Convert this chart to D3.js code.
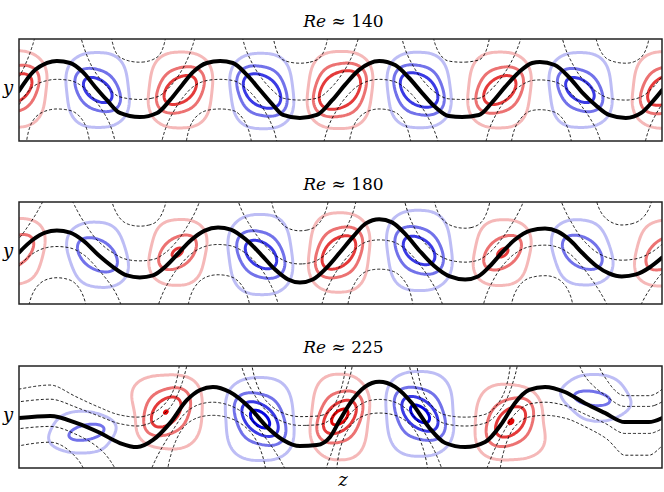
<!DOCTYPE html>
<html><head><meta charset="utf-8">
<script src="https://cdn.jsdelivr.net/npm/d3@7"></script>
<style>body{margin:0;background:#fff} svg{display:block}</style>
</head><body>
<svg id="c" width="664" height="492"></svg>
<script>
// ---------------- data (z in [0, 4pi], y in [-1, 1]) ----------------
const reynolds = ["140", "180", "225"];

// thick black line
const black140 = [[0.00,-0.02],[0.27,0.35],[0.55,0.53],[0.74,0.57],[1.00,0.53],[1.25,0.35],[1.49,0.06],[1.72,-0.20],[1.97,-0.45],[2.36,-0.53],[2.70,-0.45],[2.95,-0.20],[3.19,0.10],[3.40,0.35],[3.67,0.53],[3.93,0.57],[4.18,0.53],[4.46,0.29],[4.71,0.00],[4.96,-0.29],[5.16,-0.49],[5.49,-0.55],[5.82,-0.49],[6.12,-0.20],[6.37,0.10],[6.64,0.39],[7.04,0.57],[7.35,0.49],[7.62,0.24],[7.88,-0.06],[8.13,-0.33],[8.40,-0.51],[8.66,-0.53],[8.99,-0.49],[9.24,-0.25],[9.50,0.06],[9.77,0.35],[10.03,0.53],[10.18,0.55],[10.47,0.49],[10.75,0.25],[11.00,-0.04],[11.26,-0.29],[11.53,-0.49],[11.86,-0.55],[12.16,-0.45],[12.37,-0.24],[12.57,0.00]];
const black180 = [[0.00,0.01],[0.27,0.26],[0.51,0.40],[0.74,0.44],[1.00,0.40],[1.27,0.23],[1.54,-0.03],[1.82,-0.26],[2.11,-0.44],[2.36,-0.48],[2.62,-0.44],[2.87,-0.26],[3.11,-0.01],[3.36,0.25],[3.63,0.44],[3.89,0.50],[4.14,0.46],[4.44,0.26],[4.73,-0.03],[5.00,-0.32],[5.26,-0.52],[5.49,-0.58],[5.74,-0.52],[6.02,-0.28],[6.27,0.01],[6.53,0.32],[6.78,0.58],[7.04,0.66],[7.29,0.60],[7.56,0.36],[7.84,0.03],[8.11,-0.25],[8.42,-0.46],[8.72,-0.52],[8.97,-0.46],[9.20,-0.26],[9.44,0.01],[9.69,0.26],[9.99,0.44],[10.28,0.48],[10.53,0.42],[10.77,0.25],[11.00,0.01],[11.28,-0.25],[11.53,-0.40],[11.78,-0.46],[12.06,-0.42],[12.33,-0.28],[12.57,-0.09]];
const black225 = [[0.00,-0.02],[0.61,0.02],[1.13,-0.12],[1.58,-0.31],[1.97,-0.51],[2.31,-0.59],[2.62,-0.45],[2.95,-0.12],[3.28,0.33],[3.54,0.53],[3.79,0.59],[4.12,0.49],[4.51,0.18],[4.85,-0.20],[5.16,-0.45],[5.49,-0.57],[5.82,-0.55],[6.08,-0.39],[6.27,-0.06],[6.45,0.24],[6.76,0.59],[7.04,0.69],[7.35,0.59],[7.68,0.27],[8.01,-0.20],[8.33,-0.51],[8.72,-0.59],[9.11,-0.49],[9.44,-0.12],[9.69,0.27],[9.97,0.53],[10.28,0.59],[10.67,0.49],[11.06,0.27],[11.45,0.08],[11.84,-0.10],[12.31,-0.10],[12.57,-0.02]];

// vortices: [z, y, amplitude (+ red / - blue), cell half width, cell half height, core tilt deg, core length, core thickness]
const vort140 = [[-0.08,0.02,1.10,0.72,0.81,35,0.47,0.25],[1.54,0.00,-0.98,0.76,0.84,-35,0.46,0.25],[3.15,0.00,1.05,0.74,0.82,35,0.47,0.26],[4.75,-0.02,-1.18,0.69,0.77,-35,0.49,0.27],[6.27,0.00,1.28,0.68,0.76,35,0.51,0.28],[7.82,0.00,-1.18,0.69,0.77,-35,0.49,0.27],[9.40,0.00,1.05,0.74,0.82,35,0.47,0.26],[10.96,0.00,-0.98,0.76,0.84,-35,0.46,0.25],[12.62,0.00,1.10,0.72,0.81,35,0.47,0.25]];
const vort180 = [[-0.08,0.03,0.73,0.93,0.90,35,0.55,0.28],[1.52,-0.03,-0.74,0.86,0.88,-30,0.60,0.30],[3.09,0.01,0.78,0.80,0.86,35,0.5,0.26],[4.73,-0.03,-1.00,0.78,0.89,-35,0.5,0.28],[6.25,0.01,1.10,0.72,0.84,40,0.5,0.27],[7.82,0.05,-1.00,0.78,0.89,-35,0.5,0.28],[9.46,0.01,0.78,0.80,0.86,35,0.5,0.26],[11.02,0.01,-0.74,0.86,0.88,-30,0.60,0.30],[12.62,0.00,0.73,0.93,0.90,35,0.55,0.28]];
const vort225 = [[1.37,-0.29,-0.66,1.08,0.66,12,0.55,0.19],[2.85,0.08,1.032,0.90,0.82,45,0.5,0.28],[4.71,-0.04,-1.12,0.80,0.87,-40,0.5,0.26],[6.27,0.00,1.10,0.69,0.91,40,0.5,0.26],[7.84,0.06,-1.12,0.80,0.89,-40,0.5,0.26],[9.63,-0.08,1.032,0.91,0.84,45,0.5,0.28],[11.16,0.37,-0.65,1.10,0.76,-8,0.55,0.18]];

// contour levels
const vortLevels140 = [0.25, 0.5, 0.75];
const vortLevels180 = [0.25, 0.5, 0.75];
const vortLevels225 = [0.25, 0.5, 0.75, 1.0];
const dash140 = [-0.80, -0.26, 0.26, 0.89];
const dash180 = [-0.80, -0.26, 0.26, 0.85];
const dash225 = [-0.44, -0.20, 0.30, 0.47];

const redShades = ["#f5b8b8", "#ec7272", "#e43a3a", "#e00606"];
const blueShades = ["#bdbdf5", "#7272ea", "#3a3ae4", "#0606e0"];

// ---------------- drawing ----------------
const blackLines = [black140, black180, black225];
const vortices = [vort140, vort180, vort225];
const vortLevels = [vortLevels140, vortLevels180, vortLevels225];
const dashLevels = [dash140, dash180, dash225];

const svg = d3.select("#c");
const X0 = 19, X1 = 662, PH = 102;
const panelTops = [39, 202, 366];
const titleBase = [27, 190, 353];
const serif = "'DejaVu Serif', 'Liberation Serif', serif";

const x = d3.scaleLinear().domain([0, 4 * Math.PI]).range([X0, X1]);
const G = v => Math.tanh(1.5 * v) / 1.5;
const CELL = 0.52, CORE = 0.48, SHAPE = 2.5;

function vortexField(vs, zz, yy) {
  let s = 0;
  for (const [vz, vy, A, Wd, Hd, tilt, ca, cb] of vs) {
    const dz = zz - vz, dy = yy - vy;
    const cell = Math.exp(-(Math.pow(Math.abs(dz / Wd), SHAPE) + Math.pow(Math.abs(dy / Hd), SHAPE)));
    const th = tilt * Math.PI / 180;
    const u = dz * Math.cos(th) + dy * Math.sin(th);
    const v = -dz * Math.sin(th) + dy * Math.cos(th);
    const core = Math.exp(-Math.pow(u / ca, 2) - Math.pow(v / cb, 2));
    s += A * (CELL * cell + CORE * core);
  }
  return s;
}

svg.append("defs");

reynolds.forEach((re, i) => {
  const top = panelTops[i];
  const y = d3.scaleLinear().domain([-1, 1]).range([top + PH, top]);
  const clipId = "clip" + i;
  svg.select("defs").append("clipPath").attr("id", clipId)
    .append("rect").attr("x", X0).attr("y", top).attr("width", X1 - X0).attr("height", PH);

  const g = svg.append("g");
  const gc = g.append("g").attr("clip-path", `url(#${clipId})`);
  const gColor = gc.append("g"), gDash = gc.append("g"), gBlack = gc.append("g");

  const line = d3.line().x(d => x(d[0])).y(d => y(d[1])).curve(d3.curveMonotoneX);
  const bp = gBlack.append("path").datum(blackLines[i]).attr("d", line)
    .attr("fill", "none").attr("stroke", "#000").attr("stroke-width", 4).attr("stroke-linecap", "round");

  // sample black line to build the streak field
  const node = bp.node(), L = node.getTotalLength();
  const samples = [];
  for (let s = 0; s <= L; s += 0.5) { const p = node.getPointAtLength(s); samples.push([p.x, p.y]); }
  samples.sort((a, b) => a[0] - b[0]);
  const bis = d3.bisector(d => d[0]).left;
  const hpx = px => {
    if (px <= samples[0][0]) return samples[0][1];
    const last = samples[samples.length - 1];
    if (px >= last[0]) return last[1];
    const k = Math.max(1, bis(samples, px));
    const a = samples[k - 1], b = samples[k];
    const t = (px - a[0]) / ((b[0] - a[0]) || 1);
    return a[1] + t * (b[1] - a[1]);
  };

  const cw = 1.25, pad = 10;
  const gx0 = X0 - pad, gy0 = top - pad;
  const nx = Math.ceil((X1 - X0 + 2 * pad) / cw), ny = Math.ceil((PH + 2 * pad) / cw);
  const om = new Float64Array(nx * ny), un = new Float64Array(nx * ny), omn = new Float64Array(nx * ny);
  for (let ii = 0; ii < nx; ii++) {
    const px = gx0 + (ii + 0.5) * cw, zz = x.invert(px);
    const S = G(y.invert(hpx(px)));
    for (let jj = 0; jj < ny; jj++) {
      const py = gy0 + (jj + 0.5) * cw, yy = y.invert(py);
      const w = vortexField(vortices[i], zz, yy);
      om[jj * nx + ii] = w; omn[jj * nx + ii] = -w;
      un[jj * nx + ii] = G(yy) - S;
    }
  }
  const proj = d3.geoTransform({ point(px, py) { this.stream.point(gx0 + px * cw, gy0 + py * cw); } });
  const gp = d3.geoPath(proj);

  const lv = vortLevels[i];
  const redC = d3.contours().size([nx, ny]).thresholds(lv)(om);
  const blueC = d3.contours().size([nx, ny]).thresholds(lv)(omn);
  lv.forEach((_, k) => {
    gColor.append("path").attr("d", gp(redC[k])).attr("fill", "none")
      .attr("stroke", redShades[k]).attr("stroke-width", 3).attr("stroke-linejoin", "round");
    gColor.append("path").attr("d", gp(blueC[k])).attr("fill", "none")
      .attr("stroke", blueShades[k]).attr("stroke-width", 3).attr("stroke-linejoin", "round");
  });

  const dC = d3.contours().size([nx, ny]).thresholds(dashLevels[i])(un);
  dC.forEach(c => {
    gDash.append("path").attr("d", gp(c)).attr("fill", "none")
      .attr("stroke", "#000").attr("stroke-width", 0.9).attr("stroke-dasharray", "3,2");
  });

  // frame
  g.append("rect").attr("x", X0).attr("y", top).attr("width", X1 - X0).attr("height", PH)
    .attr("fill", "none").attr("stroke", "#222").attr("stroke-width", 1.5);

  // title
  const t = g.append("text").attr("x", (X0 + X1) / 2 + 3).attr("y", titleBase[i])
    .attr("text-anchor", "middle").attr("font-family", serif).attr("font-size", 17).attr("fill", "#000");
  t.append("tspan").attr("font-style", "italic").text("Re");
  t.append("tspan").text(" \u2248 " + re);

  // y label
  g.append("text").attr("x", 8).attr("y", top + PH / 2 + 4).attr("text-anchor", "middle")
    .attr("font-family", serif).attr("font-style", "italic").attr("font-size", 18).text("y");
});

svg.append("text").attr("x", 343).attr("y", 486).attr("text-anchor", "middle")
  .attr("font-family", serif).attr("font-style", "italic").attr("font-size", 18).text("z");
</script>
</body></html>
